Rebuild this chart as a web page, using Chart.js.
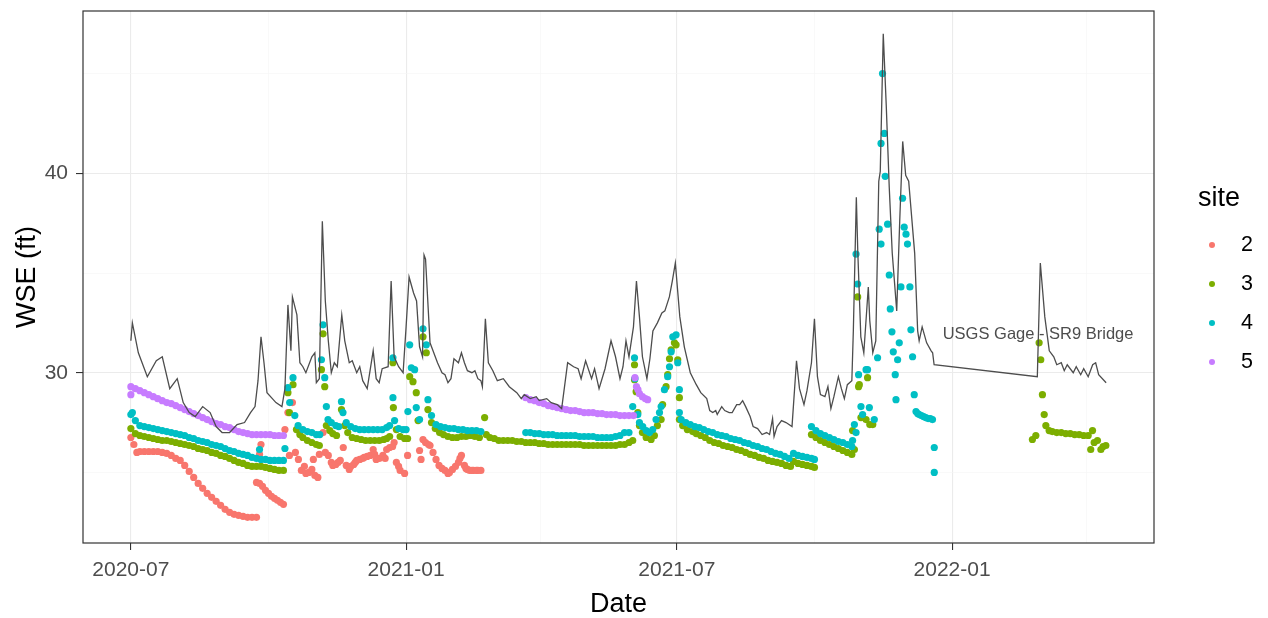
<!DOCTYPE html>
<html>
<head>
<meta charset="utf-8">
<script src="https://cdn.jsdelivr.net/npm/chart.js@4"></script>
<style>
  html, body { margin: 0; padding: 0; background: #fff; }
  #wrap { position: relative; width: 1268px; height: 618px; }
  #legend { position: absolute; left: 1196px; top: 182px; font-family: "Liberation Sans", Arial, sans-serif; }
  #legend .title { font-size: 27px; color: #000; margin-left: 2px; margin-bottom: 12px; }
  #legend .item { height: 39px; display: flex; align-items: center; font-size: 21.5px; color: #000; }
  #legend .dot { width: 6px; height: 6px; border-radius: 50%; margin-left: 13px; margin-right: 26px; }
</style>
</head>
<body>
<div id="wrap">
  <canvas id="wseChart" width="1268" height="618"></canvas>
  <div id="legend"></div>
</div>
<script>
// x = days since 2020-07-01, y = WSE (ft)
const xTickDays = [0, 92, 184, 274, 365, 457, 549, 639];
const xTickLabels = { 0: '2020-07', 184: '2021-01', 365: '2021-07', 549: '2022-01' };
const yTicks = [25, 30, 35, 40, 45];
const yTickLabels = { 30: '30', 40: '40' };

const siteNames = ['2', '3', '4', '5'];
const siteColors = ['#F8766D', '#7CAE00', '#00BFC4', '#C77CFF'];

const site2 = [
  [0,26.75],[2,26.4],[4,26.0],[6,26.05],[9,26.05],[12,26.05],[15,26.05],[18,26.05],[21,26.0],[24,25.95],
  [27,25.85],[30,25.7],[33,25.6],[36,25.35],[39,25.05],[42,24.75],[45,24.45],[48,24.2],[51,23.95],[54,23.75],
  [57,23.55],[60,23.35],[63,23.15],[66,23.0],[69,22.9],[72,22.85],[75,22.8],[78,22.75],[81,22.75],[84,22.75],
  [84,24.5],[86,24.45],[88,24.3],[90,24.1],[92,23.95],[94,23.8],[96,23.7],[98,23.6],[100,23.5],[102,23.4],
  [86,25.9],[87,26.4],
  [103,27.15],[105,28.0],[106,25.85],[108,28.5],[110,26.0],[112,25.65],[114,25.1],[116,25.3],[117,24.95],
  [119,25.0],[121,25.15],[122,25.65],[123,24.85],[125,24.75],[126,25.9],[128.5,27.0],[130,26.0],[132,25.85],
  [134,25.5],[135,25.35],[137,25.4],[138.5,25.5],[140,25.6],[142,26.25],[144,25.35],[146,25.15],[147,25.3],
  [149,25.4],[150,25.5],[151,25.6],[153,25.65],[155,25.7],[156,25.75],[158,25.8],[160,25.85],[162,26.15],
  [163,25.9],[164,25.65],[166,25.7],[168.5,25.85],[170,25.7],[171,26.15],[173,26.25],[175,26.3],[176,26.5],
  [177.5,25.5],[179,25.3],[180,25.1],[183,24.95],[185,25.85],[193,26.1],[194,25.65],[195.3,26.65],[197,26.5],
  [199,26.4],[200,26.35],[202,26.0],[204,25.65],[206,25.35],[208,25.2],[210,25.1],[212,24.95],[213,25.0],
  [215,25.15],[217,25.3],[219,25.5],[220,25.7],[221,25.85],[223,25.35],[224,25.2],[225,25.15],[226.5,25.1],
  [228,25.1],[229,25.1],[231,25.1],[232,25.1],[234,25.1]
];

const site3 = [
  [0,27.2],[3,26.95],[6,26.85],[9,26.8],[12,26.75],[15,26.7],[18,26.65],[21,26.6],[24,26.6],[27,26.55],
  [30,26.5],[33,26.45],[36,26.4],[39,26.35],[42,26.3],[45,26.2],[48,26.15],[51,26.1],[54,26.0],[57,25.95],
  [60,25.85],[63,25.8],[66,25.7],[69,25.6],[72,25.5],[75,25.45],[78,25.35],[81,25.3],[84,25.3],[87,25.3],
  [90,25.25],[93,25.2],[96,25.15],[99,25.1],[102,25.1],
  [105,29.0],[106,28.0],[108.4,29.4],[110.7,27.15],[113,26.9],[115,26.75],[118,26.6],[121,26.5],[124,26.4],
  [126,26.35],[127.4,30.15],[128.5,31.95],[129.6,29.3],[130.7,27.35],[133,27.1],[135,26.95],[137.5,26.85],
  [140.8,28.15],[143,27.35],[145,27.0],[148,26.75],[151,26.7],[154,26.65],[157,26.6],[160,26.6],[163,26.6],
  [166,26.6],[169,26.65],[171,26.7],[173,26.8],[175.2,30.5],[175.5,28.25],[177.5,27.15],[180,26.8],[183,26.7],
  [185,26.7],[186.4,29.8],[188.6,29.55],[190.8,29.0],[192,27.6],[195.3,31.8],[197.5,31.0],[198.6,28.15],
  [201,27.5],[203.5,27.2],[206.4,27.0],[209,26.9],[212,26.8],[215,26.75],[218,26.75],[221,26.8],[224,26.8],
  [227,26.85],[230,26.8],[233,26.75],[236.5,27.75],[237.6,26.9],[240,26.75],[243,26.7],[246,26.6],[249,26.6],
  [252,26.6],[255,26.6],[258,26.55],[261,26.55],[264,26.5],[267,26.5],[270,26.5],[273,26.45],[276,26.45],
  [279,26.4],[282,26.4],[285,26.4],[288,26.4],[291,26.4],[294,26.4],[297,26.4],[300,26.4],[303,26.35],
  [306,26.35],[309,26.35],[312,26.35],[315,26.35],[318,26.35],[321,26.35],[324,26.35],[327,26.4],[330,26.4],
  [333,26.5],[335.5,26.6],[336.7,30.4],[336.7,29.65],[337.8,29.05],[338.9,28.0],[340,27.35],[342,27.0],
  [344.5,26.75],[347.8,26.65],[350,26.85],[352,27.35],[354.5,27.65],[355.5,28.4],[357.8,29.3],[358.9,29.9],
  [360.1,30.7],[361.2,31.15],[363.4,31.5],[364.5,31.4],[365.6,30.65],[366.7,28.75],[366.7,27.65],[368.9,27.35],
  [372,27.15],[375.6,27.05],
  [378,26.95],[381,26.85],[384,26.75],[387,26.6],[390,26.5],[393,26.45],[396,26.35],[399,26.3],[402,26.25],
  [405,26.15],[408,26.1],[411,26.0],[414,25.9],[417,25.85],[420,25.75],[423,25.7],[426,25.6],[429,25.55],
  [432,25.5],[435,25.45],[438,25.35],[441,25.3],[443,25.55],[446,25.45],[449,25.4],[452,25.35],[455,25.3],
  [457,25.25],
  [455,26.9],[458,26.75],[461,26.6],[464,26.5],[467,26.4],[470,26.3],[473,26.2],[476,26.1],[479,26.0],[482,25.9],
  [482.5,27.1],[483.7,26.15],[485.9,33.8],[486.5,29.3],[487,29.4],[488.1,27.75],[489,27.8],[491.5,27.65],
  [492.5,29.75],[494,27.4],[496,27.4],
  [602.7,26.65],[605,26.85],[607.2,31.5],[608.3,30.65],[609.4,28.9],[610.6,27.9],[611.7,27.35],[613.9,27.1],
  [616,27.05],[619,27.0],[622,27.0],[625,26.95],[628,26.95],[631,26.9],[634,26.9],[637,26.85],[640,26.85],
  [641.7,26.15],[642.9,27.1],[644,26.5],[646.2,26.6],[648.5,26.15],[650,26.3],[651.8,26.35]
];

const site4 = [
  [0,27.9],[1,28.0],[3,27.6],[6,27.35],[9,27.3],[12,27.25],[15,27.2],[18,27.15],[21,27.1],[24,27.05],
  [27,27.0],[30,26.95],[33,26.9],[36,26.85],[39,26.75],[42,26.7],[45,26.6],[48,26.55],[51,26.5],[54,26.4],
  [57,26.35],[60,26.3],[63,26.2],[66,26.1],[69,26.05],[72,25.95],[75,25.9],[78,25.85],[81,25.75],[84,25.7],
  [86,26.15],[87,25.65],[90,25.65],[93,25.6],[96,25.6],[99,25.6],[102,25.6],
  [103,26.2],[105,29.25],[106.2,28.5],[108.4,29.75],[109.6,27.85],[111.8,27.35],[115,27.15],[118,27.05],
  [121,27.0],[124,26.9],[126.3,26.9],[127.4,30.65],[128.5,32.4],[129.6,29.75],[130.7,28.3],[131.8,27.65],
  [134,27.5],[137,27.35],[139,27.3],[140.8,28.55],[141.8,28.0],[144,27.5],[147,27.3],[150,27.2],[153,27.15],
  [156,27.15],[159,27.15],[162,27.15],[165,27.15],[168,27.15],[171,27.25],[173,27.35],[175.2,28.75],
  [175.2,30.75],[176.3,27.6],[179,27.2],[182,27.15],[184,27.15],[185.2,28.05],[186.4,31.4],[187.5,30.25],
  [189.7,30.15],[190.8,28.25],[193,27.65],[195.3,32.2],[197.5,31.4],[198.6,28.65],[201,27.85],[204,27.4],
  [207,27.3],[210,27.25],[213,27.2],[216,27.2],[219,27.15],[222,27.15],[225,27.1],[228,27.1],[231,27.1],[234,27.05],
  [264,27.0],[267,27.0],[270,26.95],[273,26.95],[276,26.9],[279,26.9],[282,26.9],[285,26.85],[288,26.85],
  [291,26.85],[294,26.85],[297,26.85],[300,26.8],[303,26.8],[306,26.8],[309,26.8],[312,26.75],[315,26.75],
  [318,26.75],[321,26.75],[324,26.8],[327,26.85],[330,27.0],[333,27.0],[335.5,28.3],[336.7,30.75],[337,29.7],
  [338.9,27.9],[340,27.5],[342.2,27.3],[344.5,27.1],[346.7,27.0],[348.9,27.15],[351.1,27.65],[353.4,28.0],
  [354.5,28.3],[356.7,29.15],[358.9,29.8],[360.1,30.3],[361.2,31.05],[362.3,31.8],[364.5,31.9],[365.6,30.5],
  [366.7,29.15],[366.7,28.0],[367.9,27.65],[371,27.5],[374,27.4],[377,27.3],
  [380,27.25],[383,27.15],[386,27.05],[389,27.0],[392,26.9],[395,26.85],[398,26.8],[401,26.7],[404,26.65],
  [407,26.6],[410,26.5],[413,26.45],[416,26.35],[419,26.3],[422,26.2],[425,26.15],[428,26.05],[431,25.95],
  [434,25.9],[437,25.8],[440,25.7],[443,25.95],[446,25.85],[449,25.8],[452,25.75],[455,25.7],[457,25.65],
  [455,27.3],[458,27.1],[461,26.95],[464,26.85],[467,26.75],[470,26.65],[473,26.55],[476,26.5],[479,26.4],[482,26.3],
  [482.5,26.6],[483.7,27.4],[484.8,27.0],[484.8,35.95],[485.9,34.45],[486.5,29.9],[488.1,28.3],[489.2,27.9],
  [491.5,30.15],[492.5,30.15],[493.7,28.25],[497,27.65],[499.2,30.75],[500.3,37.2],[501.5,36.45],[501.5,41.5],
  [502.5,45.0],[503.7,42.0],[504.3,39.85],[505.9,37.45],[507,34.9],[507.7,33.2],[508.8,32.05],[509.7,31.05],
  [511,29.9],[511.5,28.65],[512.6,30.65],[513.7,31.5],[514.8,34.3],[515.9,38.75],[517,37.3],[518.2,36.95],
  [519.2,36.45],[520.8,34.3],[521.5,32.15],[522.6,30.8],[523.7,28.9],[524.9,28.05],[526,27.95],[527.1,27.9],
  [528.5,27.85],[530,27.8],[531.5,27.75],[533,27.7],[534.5,27.7],[535.9,27.65],[537.1,26.25],[537.1,25.0]
];

const site5 = [
  [0,28.9],
  [0,29.3],[3,29.2],[6,29.1],[9,29.0],[12,28.9],[15,28.8],[18,28.7],[21,28.6],[24,28.5],[27,28.45],
  [30,28.35],[33,28.25],[36,28.15],[39,28.05],[42,27.95],[45,27.85],[48,27.75],[51,27.65],[54,27.55],
  [57,27.45],[60,27.4],[63,27.3],[66,27.25],[69,27.15],[72,27.05],[75,27.0],[78,26.95],[81,26.9],[84,26.9],
  [87,26.9],[90,26.9],[93,26.9],[96,26.85],[99,26.85],[102,26.85],
  [264,28.75],[267,28.65],[270,28.6],[273,28.5],[276,28.45],[279,28.35],[282,28.3],[285,28.25],[288,28.2],
  [291,28.15],[294,28.1],[297,28.1],[300,28.05],[303,28.0],[306,28.0],[309,28.0],[312,27.95],[315,27.95],
  [318,27.9],[321,27.9],[324,27.9],[327,27.85],[330,27.85],[333,27.85],[336,27.85],
  [337,29.75],[338,29.3],[339,29.15],[340,28.95],[342,28.8],[344,28.7],[345.5,28.65]
];

// USGS gage (SR9 bridge) daily WSE
const gage = [
  [0,31.6],[1,32.5],[5,31.0],[11,29.8],[17,30.6],[21,30.8],[26,29.2],[31,29.7],[35,28.5],[39,28.0],
  [43,27.8],[48,28.3],[53,28.0],[57,27.3],[61,27.0],[66,27.0],[71,27.4],[76,27.5],[80,28.0],[83,28.3],
  [85,29.6],[87,31.8],[89,30.5],[91,29.0],[97,28.5],[101,28.3],[103,29.2],[105,33.4],[107,31.1],[108,33.8],
  [111,32.9],[113,30.5],[115,30.3],[117,30.0],[121,30.8],[123,31.0],[124,29.5],[126,29.7],[128,37.6],[130,33.6],
  [132,31.6],[134,30.0],[136,30.5],[138,30.3],[141,32.9],[143,31.6],[146,30.5],[148,30.6],[151,30.0],[153,30.3],
  [155,29.6],[158,29.2],[162,31.1],[164,29.7],[166,29.5],[168,30.2],[172,30.3],[174,34.6],[176,30.8],[179,30.3],
  [182,30.0],[184,32.3],[186,34.8],[189,34.0],[191,33.6],[193,31.3],[195,30.8],[196,35.9],[197,35.7],[200,31.5],
  [202,31.1],[205,30.5],[208,30.0],[210,29.9],[212,29.5],[214,29.7],[216,30.7],[219,30.5],[221,31.0],[223,30.5],
  [225,30.1],[228,30.0],[230,30.1],[232,29.7],[234,29.6],[235,29.3],[237,32.7],[239,30.5],[242,30.1],[245,29.6],
  [249,29.7],[253,29.3],[258,29.0],[261,28.7],[263,28.9],[267,28.7],[271,28.8],[273,28.6],[278,28.7],[281,28.5],
  [285,28.4],[288,28.2],[292,30.5],[296,30.3],[299,30.2],[301,29.7],[304,30.6],[308,29.7],[310,30.2],[313,29.2],
  [317,30.2],[321,31.6],[324,30.8],[327,29.7],[329,30.3],[331,31.6],[333,30.8],[336,32.3],[338,34.6],[340,32.8],
  [342,30.8],[345,29.7],[347,30.7],[349,32.1],[352,32.5],[355,33.0],[357,33.1],[360,33.8],[362,34.6],[364,35.5],
  [367,32.8],[370,31.3],[374,30.0],[378,29.4],[381,29.0],[385,28.7],[387,28.1],[389,28.0],[391,28.1],[392,27.9],
  [395,28.3],[397,28.1],[400,28.0],[402,28.0],[405,28.4],[407,28.4],[409,28.6],[411,28.3],[414,27.8],[416,27.3],
  [419,27.2],[422,26.9],[425,27.0],[427,26.9],[429,27.7],[430,26.8],[432,27.3],[435,27.6],[438,27.5],[442,27.3],
  [445,30.6],[447,29.2],[450,28.4],[452,29.1],[455,30.5],[457,32.7],[459,29.8],[461,28.9],[464,28.8],[466,29.3],
  [468,28.2],[470,28.8],[473,29.8],[475,29.2],[477,28.7],[479,29.4],[482,29.6],[483,32.1],[485,38.8],[486,36.0],
  [488,31.8],[490,31.0],[493,34.3],[494,32.6],[496,31.0],[498,31.6],[500,39.6],[501,40.1],[503,47.0],[505,43.4],
  [507,39.3],[509,36.0],[512,33.1],[514,37.6],[516,41.6],[518,39.9],[520,39.6],[524,36.0],[526,32.1],[527,31.6],
  [529,32.3],[532,31.5],[535,31.1],[536,31.0],[537,30.4],[606,29.8],[608,35.5],[611,32.8],[614,31.1],[617,30.8],
  [619,30.4],[622,30.5],[624,30.1],[626,30.4],[630,30.0],[632,30.3],[635,29.9],[637,30.2],[640,29.8],[643,30.4],
  [645,30.5],[647,29.9],[652,29.5]
];
const gageLabel = 'USGS Gage - SR9 Bridge';
const gageLabelAt = [606.5, 31.9];

const FONT = '"Liberation Sans", Arial, sans-serif';
Chart.defaults.font.family = FONT;

const toXY = arr => arr.map(([x, y]) => ({ x: x, y: y }));
const siteData = [site2, site3, site4, site5];

const datasets = [{
  type: 'line',
  label: 'gage',
  data: toXY(gage),
  borderColor: '#4d4d4d',
  borderWidth: 1.3,
  pointRadius: 0,
  tension: 0,
  order: 0
}];
siteData.forEach((d, i) => {
  datasets.push({
    type: 'scatter',
    label: siteNames[i],
    data: toXY(d),
    backgroundColor: siteColors[i],
    borderWidth: 0,
    pointRadius: 3.6,
    pointHoverRadius: 3.6,
    order: 4 - i
  });
});

const isMajorX = v => xTickLabels[v] !== undefined;
const isMajorY = v => yTickLabels[v] !== undefined;

// panel border + gage label
const panelPlugin = {
  id: 'panel',
  afterDatasetsDraw(chart) {
    const { ctx, chartArea: a, scales } = chart;
    ctx.save();
    ctx.font = '16.5px ' + FONT;
    ctx.fillStyle = '#4d4d4d';
    ctx.textAlign = 'center';
    ctx.textBaseline = 'middle';
    ctx.fillText(gageLabel, scales.x.getPixelForValue(gageLabelAt[0]), scales.y.getPixelForValue(gageLabelAt[1]));
    ctx.strokeStyle = '#333333';
    ctx.lineWidth = 1.2;
    ctx.strokeRect(a.left, a.top, a.right - a.left, a.bottom - a.top);
    ctx.restore();
  }
};

new Chart(document.getElementById('wseChart'), {
  data: { datasets },
  plugins: [panelPlugin],
  options: {
    responsive: false,
    animation: false,
    layout: { padding: { top: 11, right: 114, left: 0, bottom: 0 } },
    plugins: { legend: { display: false }, tooltip: { enabled: false } },
    scales: {
      x: {
        type: 'linear',
        min: -32,
        max: 684,
        afterBuildTicks: s => { s.ticks = xTickDays.map(v => ({ value: v })); },
        afterFit: s => { s.height = 75; s.paddingLeft = 0; s.paddingRight = 0; },
        border: { display: false },
        grid: {
          color: c => isMajorX(c.tick && c.tick.value) ? '#ebebeb' : '#f5f5f5',
          lineWidth: c => isMajorX(c.tick && c.tick.value) ? 1.1 : 0.6,
          tickColor: c => isMajorX(c.tick && c.tick.value) ? '#333333' : 'rgba(0,0,0,0)',
          tickLength: 7,
          tickWidth: 1.1
        },
        ticks: {
          autoSkip: false,
          maxRotation: 0,
          padding: 8,
          color: '#4d4d4d',
          font: { size: 21 },
          callback: v => xTickLabels[v] || ''
        },
        title: { display: true, text: 'Date', color: '#000', font: { size: 27, lineHeight: 1.0 }, padding: { top: 0, bottom: 0 } }
      },
      y: {
        type: 'linear',
        min: 21.46,
        max: 48.14,
        afterBuildTicks: s => { s.ticks = yTicks.map(v => ({ value: v })); },
        afterFit: s => { s.width = 83; s.paddingTop = 0; s.paddingBottom = 0; },
        border: { display: false },
        grid: {
          color: c => isMajorY(c.tick && c.tick.value) ? '#ebebeb' : '#f5f5f5',
          lineWidth: c => isMajorY(c.tick && c.tick.value) ? 1.1 : 0.6,
          tickColor: c => isMajorY(c.tick && c.tick.value) ? '#333333' : 'rgba(0,0,0,0)',
          tickLength: 7,
          tickWidth: 1.1
        },
        ticks: {
          autoSkip: false,
          padding: 8,
          color: '#4d4d4d',
          font: { size: 21 },
          callback: v => yTickLabels[v] || ''
        },
        title: { display: true, text: 'WSE (ft)', color: '#000', font: { size: 27 }, padding: { top: 11, bottom: 0 } }
      }
    }
  }
});

// legend
const legend = document.getElementById('legend');
let html = '<div class="title">site</div>';
siteNames.forEach((n, i) => {
  html += '<div class="item"><span class="dot" style="background:' + siteColors[i] + '"></span>' + n + '</div>';
});
legend.innerHTML = html;
</script>
</body>
</html>
